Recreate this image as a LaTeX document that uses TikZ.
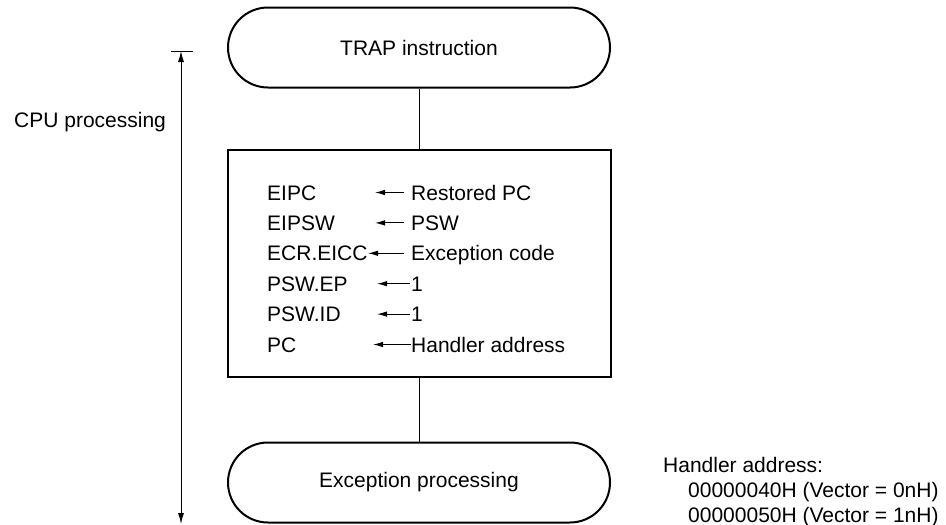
\documentclass[tikz,border=0pt]{standalone}
\usepackage{fontspec}
\setmainfont{Liberation Sans}
\usetikzlibrary{arrows.meta}
\begin{document}
\begin{tikzpicture}[x=1pt,y=-1pt,
  every node/.style={font=\fontsize{21}{25}\selectfont, inner sep=0pt},
  term/.style={draw, line width=2pt, minimum width=382pt, minimum height=80pt, rounded corners=40pt},
  procbox/.style={draw, line width=2pt, minimum width=383pt, minimum height=227pt},
  conn/.style={line width=0.9pt},
  arr/.style={line width=1pt, -{Latex[length=10pt,width=5.5pt]}},
  txt/.style={anchor=base west}]
\useasboundingbox (0,0) rectangle (946,525);
% flow
\node[term] (trap) at (419,47.5) {\raisebox{-3pt}{TRAP instruction}};
\node[procbox] (proc) at (419,263.5) {};
\node[term] (exc) at (419,482.5) {Exception processing};
\draw[conn] (trap.south) -- (proc.north);
\draw[conn] (proc.south) -- (exc.south |- exc.north);
% register assignments
\foreach \i/\l/\r/\ax/\g in {0/EIPC/Restored PC/375/7,1/EIPSW/PSW/375/7,2/ECR.EICC/Exception code/368/7,3/PSW.EP/1/377/1.5,4/PSW.ID/1/377/1.5,5/PC/Handler address/373/0.5}{
  \node[txt] (l\i) at (267,200+30.4*\i) {\l};
  \node[txt] (r\i) at (411,200+30.4*\i) {\r};
  \coordinate (t\i) at (\ax,192.5+30.4*\i);
  \draw[arr, shorten <=\g pt] (r\i.west |- t\i) -- (t\i);
}
% CPU processing span
\coordinate (atop) at (181,51);
\coordinate (abot) at (181,524);
\coordinate (barL) at (171,51);
\coordinate (barR) at (193,51);
\draw[line width=0.9pt] (barL) -- (barR);
\draw[line width=0.9pt, {Latex[length=11pt,width=6pt]}-{Latex[length=11pt,width=6pt]}] (atop) -- (abot);
\node[txt] (cpu) at (14,127) {CPU processing};
% handler address note
\node[txt] (h0) at (663,472) {Handler address:};
\node[txt] (h1) at (688,497) {00000040H (Vector = 0nH)};
\node[txt] (h2) at (688,522) {00000050H (Vector = 1nH)};
\end{tikzpicture}
\end{document}
